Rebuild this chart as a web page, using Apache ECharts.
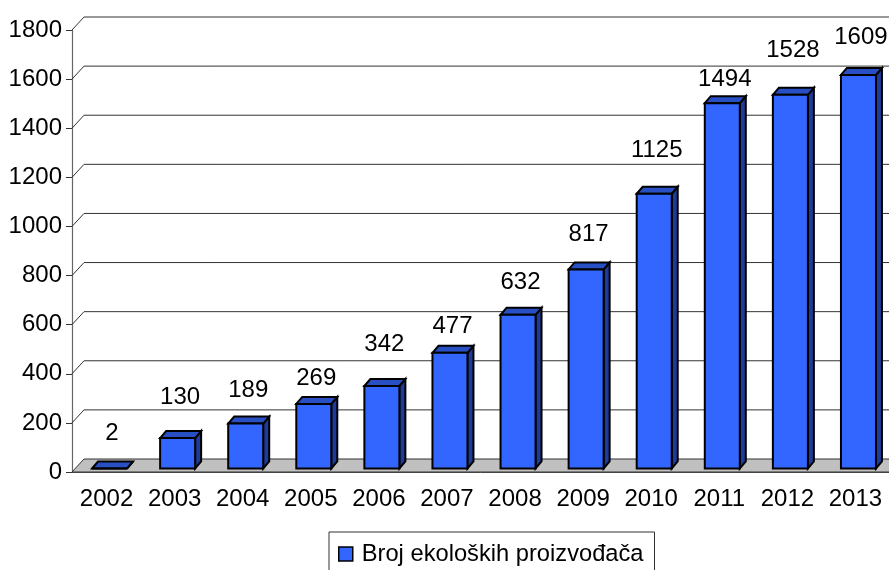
<!DOCTYPE html>
<html><head><meta charset="utf-8">
<style>html,body{margin:0;padding:0;background:#fff}#c{width:889px;height:570px}</style>
<script src="https://cdn.jsdelivr.net/npm/echarts@6/dist/echarts.min.js"></script>
</head><body><div id="c"></div>
<script>
const categories = ['2002','2003','2004','2005','2006','2007','2008','2009','2010','2011','2012','2013'];
const producers = [2,130,189,269,342,477,632,817,1125,1494,1528,1609];
const gridTicks = [0,200,400,600,800,1000,1200,1400,1600,1800];
const seriesName = 'Broj ekoloških proizvođača';
// gap in px between bar top and the centre of its value label
const labelGap = [35,41,33,26,42,26,32,35,43,24,44,38];

const FONT = 'Liberation Sans, Arial, sans-serif';
const FS = 24;
const DX = 12, DY = 13;     // wall depth
const BX = 6, BY = 7;       // bar depth
const SX = 3.5, SY = 3.5;   // bar placement within floor
const TOPN = 1.5;           // top-edge nudge
const BW = 35;

function wall(params, api){
  const y = api.coord([0, api.value(0)])[1];
  const l = params.coordSys.x, r = params.coordSys.x + params.coordSys.width;
  const ch = [];
  if (api.value(0) === 0) {
    ch.push({type:'polygon',shape:{points:[[l,y],[l+DX,y-DY],[r+DX,y-DY],[r,y]]},
      style:{fill:'#c0c0c0',stroke:'#333',lineWidth:1}, silent:true});
  } else {
    ch.push({type:'polyline',shape:{points:[[l,y],[l+DX,y-DY],[r+DX,y-DY]]},
      style:{fill:'none',stroke:'#333',lineWidth:1}, silent:true});
  }
  return {type:'group',children:ch};
}
function bar(params, api){
  const i = api.value(0), v = api.value(1);
  const c = api.coord([i, v]), b = api.coord([i, 0]);
  const x0 = c[0] + SX - BW/2, x1 = x0 + BW;
  const t = c[1] - SY + TOPN, bot = b[1] - SY;
  const bs = {stroke:'#000',lineWidth:2,lineJoin:'miter'};
  const top = Math.min(t, bot);
  return {type:'group',children:[
    {type:'polygon',shape:{points:[[x1,top],[x1+BX,top-BY],[x1+BX,bot-BY],[x1,bot]]},style:{fill:'#1f3b99',...bs}},
    {type:'polygon',shape:{points:[[x0,top],[x0+BX,top-BY],[x1+BX,top-BY],[x1,top]]},style:{fill:'#2850c4',...bs}},
    {type:'rect',shape:{x:x0,y:top,width:BW,height:bot-top},style:{fill:'#3366ff',...bs}},
    {type:'text',x:c[0]+SX+2.5,y:top-labelGap[i],style:{text:String(v),fill:'#000',
      font:FS+'px '+FONT,align:'center',verticalAlign:'middle'}}
  ]};
}
const chart = echarts.init(document.getElementById('c'),null,{renderer:'canvas'});
chart.setOption({
  animation:false,
  backgroundColor:'#fff',
  grid:{left:72,right:0,top:30,bottom:98,containLabel:false},
  legend:{
    left:329,top:532,
    data:[{name:seriesName,icon:'rect',itemStyle:{color:'#3366ff',borderColor:'#000',borderWidth:1.5}}],
    itemWidth:14,itemHeight:14,itemGap:0,
    padding:[10,11,8,9],
    borderColor:'#333',borderWidth:1,
    textStyle:{fontFamily:FONT,fontSize:23.7,color:'#000',padding:[0,0,0,4]},
    selectedMode:false
  },
  xAxis:{type:'category',data:categories,
    boundaryGap:true,
    axisLine:{lineStyle:{color:'#555',width:1}},
    axisTick:{alignWithLabel:false,length:6,lineStyle:{color:'#555'}},
    axisLabel:{fontFamily:FONT,fontSize:FS,color:'#000',margin:15,interval:0,padding:[0,0,0,1]}
  },
  yAxis:{type:'value',min:0,max:1800,interval:200,
    axisLine:{show:true,lineStyle:{color:'#666',width:1.2}},
    axisTick:{show:true,length:6,lineStyle:{color:'#333'}},
    axisLabel:{fontFamily:FONT,fontSize:FS,color:'#000',margin:10,formatter:v=>String(v)},
    splitLine:{show:false}
  },
  series:[
    {type:'custom',name:'walls',renderItem:wall,coordinateSystem:'cartesian2d',clip:false,silent:true,
      encode:{x:-1,y:0},data:gridTicks.map(v=>[v]),z:1},
    {type:'custom',name:seriesName,renderItem:bar,coordinateSystem:'cartesian2d',clip:false,
      encode:{x:0,y:1},data:producers.map((v,i)=>[i,v]),z:2,
      itemStyle:{color:'#3366ff',borderColor:'#000',borderWidth:1}}
  ]
});
</script></body></html>
